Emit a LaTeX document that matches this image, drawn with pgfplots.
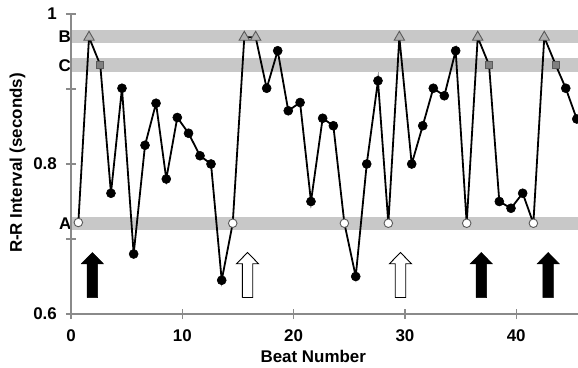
\documentclass[border=0pt]{standalone}
\usepackage{fontspec}
\setmainfont{Liberation Sans}
\usepackage{pgfplots}
\usepackage{pgfplotstable}
\pgfplotsset{compat=1.18}
\definecolor{axgray}{RGB}{138,138,138}
\definecolor{bandgray}{RGB}{200,200,200}
\definecolor{trifill}{RGB}{175,175,175}
\definecolor{sqfill}{RGB}{128,128,128}
\definecolor{mkedge}{RGB}{90,90,90}
\newcommand{\lblfont}{\bfseries\fontsize{17}{19}\selectfont}

\pgfplotstableread{
x y c
0.66 0.722 o
1.62 0.969 t
2.63 0.932 s
3.59 0.761 f
4.58 0.901 f
5.63 0.680 f
6.65 0.825 f
7.64 0.881 f
8.56 0.780 f
9.55 0.862 f
10.56 0.841 f
11.59 0.811 f
12.58 0.800 f
13.54 0.645 f
14.53 0.721 o
15.57 0.969 t
16.59 0.969 t
17.58 0.901 f
18.57 0.951 f
19.52 0.871 f
20.58 0.882 f
21.56 0.750 f
22.61 0.861 f
23.57 0.851 f
24.56 0.721 o
25.58 0.650 f
26.57 0.800 f
27.58 0.911 f
28.51 0.721 o
29.50 0.969 t
30.61 0.800 f
31.60 0.851 f
32.55 0.901 f
33.54 0.891 f
34.56 0.951 f
35.55 0.721 o
36.54 0.969 t
37.56 0.932 s
38.48 0.750 f
39.53 0.741 f
40.58 0.761 f
41.54 0.721 o
42.52 0.969 t
43.55 0.932 s
44.45 0.901 f
45.44 0.860 f
}\rrdata

\begin{document}
\begin{tikzpicture}
\begin{axis}[
  scale only axis, width=507bp, height=300bp,
  xmin=0, xmax=45.55, ymin=0.6, ymax=1,
  clip=false, axis on top,
  axis x line*=bottom, axis y line*=left,
  axis line style={draw=axgray, line width=1.8bp, -},
  xtick={0,10,20,30,40}, ytick={0.6,0.8,1}, minor ytick={0.7,0.9},
  tick align=center, major tick length=10bp, minor tick length=9bp,
  tick style={draw=axgray, line width=1.4bp},
  /pgf/number format/assume math mode=true,
  ticklabel style={font=\lblfont, inner sep=0pt},
  xticklabel style={anchor=north, yshift=-10bp},
  yticklabel style={anchor=east, xshift=-9bp},
]
\addplot[draw=none, fill=bandgray, forget plot] coordinates {(0,0.961) (45.55,0.961) (45.55,0.979) (0,0.979)} -- cycle;
\addplot[draw=none, fill=bandgray, forget plot] coordinates {(0,0.922) (45.55,0.922) (45.55,0.941) (0,0.941)} -- cycle;
\addplot[draw=none, fill=bandgray, forget plot] coordinates {(0,0.712) (45.55,0.712) (45.55,0.730) (0,0.730)} -- cycle;

\addplot[black, line width=1.8bp, scatter, scatter src=explicit symbolic,
  scatter/classes={
    f={mark=*, mark size=4.5pt, draw=black, fill=black, line width=0.6bp},
    o={mark=*, mark size=4.3pt, draw=mkedge, fill=white, line width=0.9bp},
    t={mark=triangle*, mark size=6pt, draw=mkedge, fill=trifill, line width=0.9bp},
    s={mark=square*, mark size=3.5pt, draw=mkedge, fill=sqfill, line width=0.9bp}}]
  table[x=x, y=y, meta=c] {\rrdata};

% arrows (black filled)
\addplot[fill=black, draw=black, line width=0.5bp] coordinates {(1.45,0.622) (2.39,0.622) (2.39,0.667) (2.91,0.667) (1.92,0.682) (0.93,0.667) (1.45,0.667) (1.45,0.622)};
\addplot[fill=black, draw=black, line width=0.5bp] coordinates {(36.39,0.622) (37.33,0.622) (37.33,0.667) (37.85,0.667) (36.86,0.682) (35.87,0.667) (36.39,0.667) (36.39,0.622)};
\addplot[fill=black, draw=black, line width=0.5bp] coordinates {(42.40,0.622) (43.34,0.622) (43.34,0.667) (43.86,0.667) (42.87,0.682) (41.88,0.667) (42.40,0.667) (42.40,0.622)};
% arrows (open)
\addplot[fill=white, draw=black, line width=0.9bp] coordinates {(15.39,0.622) (16.33,0.622) (16.33,0.667) (16.85,0.667) (15.86,0.682) (14.87,0.667) (15.39,0.667) (15.39,0.622)};
\addplot[fill=white, draw=black, line width=0.9bp] coordinates {(29.13,0.622) (30.07,0.622) (30.07,0.667) (30.59,0.667) (29.60,0.682) (28.61,0.667) (29.13,0.667) (29.13,0.622)};

\node[anchor=east, inner sep=0pt, font=\lblfont] at (axis cs:0,0.970) {B};
\node[anchor=east, inner sep=0pt, font=\lblfont] at (axis cs:0,0.931) {C};
\node[anchor=east, inner sep=0pt, font=\lblfont] at (axis cs:0.05,0.721) {A};
\end{axis}
\node[rotate=90, font=\lblfont, inner sep=0pt] at ([xshift=-53.5bp, yshift=1bp]current axis.west) {R-R Interval (seconds)};
\node[anchor=base, font=\lblfont, inner sep=0pt] at ([xshift=242.3bp, yshift=-48.7bp]current axis.south west) {Beat Number};
\pgfresetboundingbox
\path[use as bounding box] ([shift={(-71bp,-54bp)}]current axis.south west) rectangle ([shift={(0bp,14bp)}]current axis.north east);
\end{tikzpicture}
\end{document}
